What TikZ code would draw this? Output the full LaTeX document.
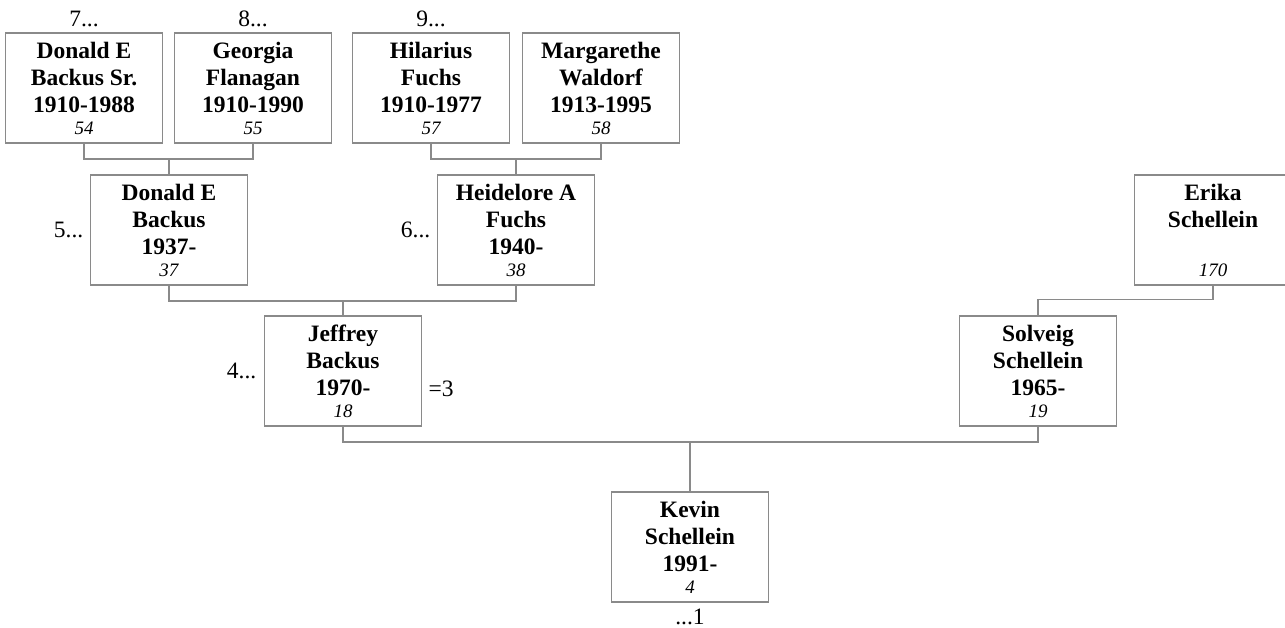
\documentclass[tikz,border=0pt]{standalone}
\usepackage{fontspec}
\setmainfont{Liberation Serif}
\usetikzlibrary{positioning}
\definecolor{linegray}{HTML}{8A8A8A}
\newcommand{\numfont}{\mdseries\itshape\fontsize{9.5}{11}\selectfont}

\begin{document}
\begin{tikzpicture}[x=0.5pt,y=-0.5pt,
  person/.style={draw=linegray,line width=0.75pt,minimum width=78.5pt,minimum height=55pt,
    inner sep=0pt,align=center,font=\bfseries\fontsize{11.75}{13.5}\selectfont},
  numlbl/.style={inner sep=0pt,font=\fontsize{11.75}{13.5}\selectfont},
  link/.style={draw=linegray,line width=0.75pt}]
  \useasboundingbox (0,0) rectangle (1285,627);
  \foreach \id/\xx/\txt in {54/84/{Donald E\\Backus Sr.\\1910-1988},55/253/{Georgia\\Flanagan\\1910-1990},
    57/431/{Hilarius\\Fuchs\\1910-1977},58/601/{Margarethe\\Waldorf\\1913-1995}}
    { \node[person] (p\id) at (\xx,88) {\txt\\[-2.5pt]{\numfont\id}}; }
  \node[numlbl,above=2.5pt of p54] (n7) {7...};
  \node[numlbl,above=2.5pt of p55] (n8) {8...};
  \node[numlbl,above=2.5pt of p57] (n9) {9...};

  \node[person] (p37) at (169,230) {Donald E\\Backus\\1937-\\[-2.5pt]{\numfont 37}};
  \node[person] (p38) at (516,230) {Heidelore A\\Fuchs\\1940-\\[-2.5pt]{\numfont 38}};
  \node[person] (p170) at (1213,230) {Erika\\Schellein\\{}\\[-2.5pt]{\numfont 170}};
  \node[numlbl,left=3pt of p37] (n5) {5...};
  \node[numlbl,left=3pt of p38] (n6) {6...};

  \node[person] (p18) at (343,371) {Jeffrey\\Backus\\1970-\\[-2.5pt]{\numfont 18}};
  \node[person] (p19) at (1038,371) {Solveig\\Schellein\\1965-\\[-2.5pt]{\numfont 19}};
  \node[numlbl,left=3.5pt of p18] (n4) {4...};
  \node[numlbl,right=3pt of p18,yshift=-9pt] (n3) {=3};

  \node[person] (p4) at (690,547) {Kevin\\Schellein\\1991-\\[-2.5pt]{\numfont 4}};
  \node[numlbl,below=3pt of p4] (n1) {...1};

  \draw[link] (p54.south) -- ++(0,15) -| (p55.south);
  \draw[link] (p37.north) -- (p37.north |- 0,158);
  \draw[link] (p57.south) -- ++(0,15) -| (p58.south);
  \draw[link] (p38.north) -- (p38.north |- 0,158);
  \draw[link] (p37.south) -- ++(0,15) -| (p38.south);
  \draw[link] (p18.north) -- (p18.north |- 0,300);
  \draw[link] (p19.north) -- ++(0,-16) -| (p170.south);
  \draw[link] (p18.south) -- ++(0,15) -| (p19.south);
  \draw[link] (p4.north) -- (p4.north |- 0,441);
\end{tikzpicture}
\end{document}
